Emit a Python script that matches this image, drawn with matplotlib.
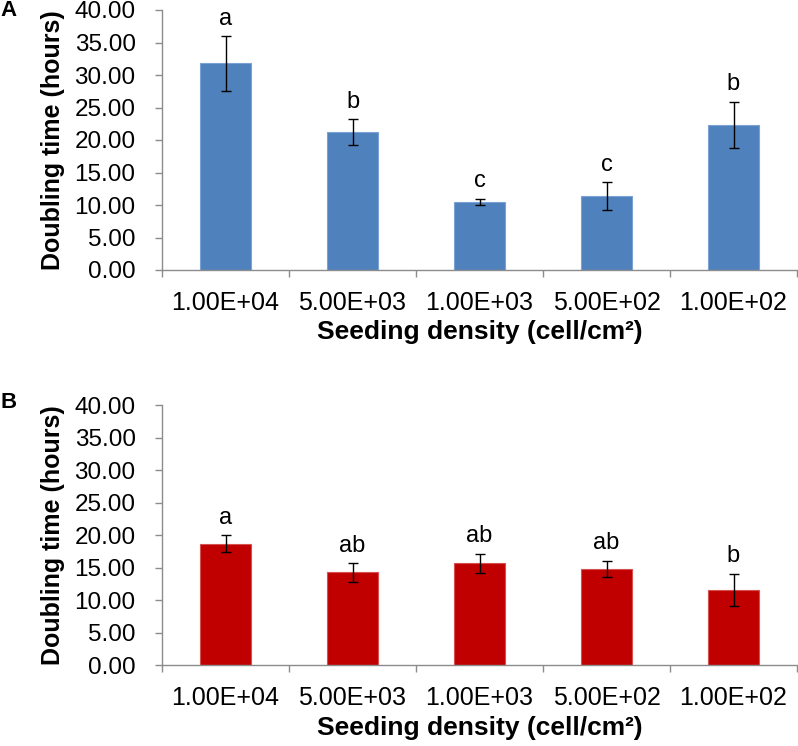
import matplotlib
matplotlib.use("Agg")
import matplotlib.pyplot as plt
import numpy as np

plt.rcParams['font.family'] = ['Liberation Sans', 'DejaVu Sans']

categories = ["1.00E+04", "5.00E+03", "1.00E+03", "5.00E+02", "1.00E+02"]

a_values = [31.8, 21.2, 10.5, 11.4, 22.3]
a_errors = [4.2, 2.0, 0.5, 2.15, 3.6]
a_letters = ["a", "b", "c", "c", "b"]

b_values = [18.7, 14.3, 15.7, 14.8, 11.6]
b_errors = [1.35, 1.45, 1.45, 1.3, 2.5]
b_letters = ["a", "ab", "ab", "ab", "b"]

yticks = [0, 5, 10, 15, 20, 25, 30, 35, 40]

W, H = 798, 746
fig = plt.figure(figsize=(W / 100, H / 100), dpi=100)

axis_color = "#8c8c8c"

def panel(top_px, bottom_px, values, errors, letters, color, edge, tag, tag_y):
    ax = fig.add_axes([162 / W, 1 - bottom_px / H, (797 - 162) / W, (bottom_px - top_px) / H])
    x = np.arange(len(categories))
    ax.bar(x, values, width=0.4, color=color, edgecolor=edge, linewidth=0.8, zorder=2)
    ax.errorbar(x, values, yerr=errors, fmt='none', ecolor='black', elinewidth=1.0,
                capsize=3.5, capthick=1.0, zorder=3)
    for xi, v, e, l in zip(x, values, errors, letters):
        ax.annotate(l, (xi, v + e), xytext=(0, 4.5), textcoords='offset points',
                    ha='center', va='bottom', fontsize=17)
    ax.set_xlim(-0.5, len(categories) - 0.5)
    ax.set_ylim(0, 40)
    ax.set_yticks(yticks)
    ax.set_yticklabels([f"{t:.2f}" for t in yticks], fontsize=17.5)
    ax.set_xticks(x)
    ax.set_xticklabels(categories, fontsize=18)
    ax.set_xticks(np.arange(-0.5, len(categories)), minor=True)
    ax.tick_params(axis='x', which='major', length=0, pad=15)
    ax.tick_params(axis='x', which='minor', length=5, color=axis_color, width=1)
    ax.tick_params(axis='y', length=5, color=axis_color, width=1, pad=14)
    for s in ['top', 'right']:
        ax.spines[s].set_visible(False)
    for s in ['left', 'bottom']:
        ax.spines[s].set_color(axis_color)
        ax.spines[s].set_linewidth(1)
    ax.set_ylabel("Doubling time (hours)", fontsize=18, fontweight='bold', labelpad=7)
    ax.set_xlabel("Seeding density (cell/cm²)", fontsize=19, fontweight='bold', labelpad=4)
    fig.text(0 / W, 1 - tag_y / H, tag, fontsize=16, fontweight='bold', ha='left', va='center')
    return ax

panel(10, 270, a_values, a_errors, a_letters, "#4F81BD", "#7aa2d4", "A", 11)
panel(405, 665.3, b_values, b_errors, b_letters, "#C00000", "#d65050", "B", 402)

fig.savefig("out.png", dpi=100)
